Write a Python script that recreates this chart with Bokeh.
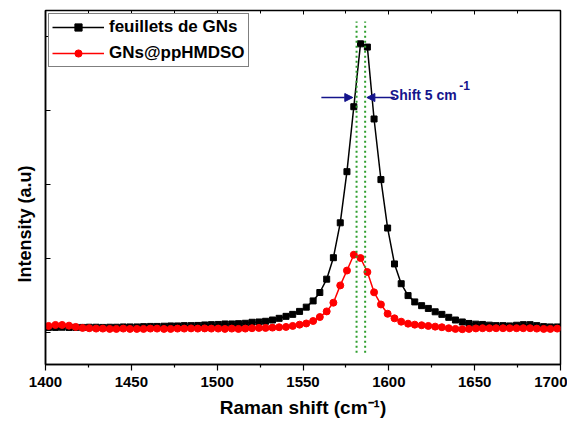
from bokeh.plotting import figure
from bokeh.models import (Range1d, LinearAxis, FixedTicker, Label, Arrow, NormalHead,
                          Legend, LegendItem, Title)
from bokeh.embed import file_html
from bokeh.resources import INLINE

# ---------------- data ----------------
raman_shift = [1401.8, 1405.8, 1409.7, 1413.7, 1417.6, 1421.6, 1425.5, 1429.5, 1433.4, 1437.4,
               1441.3, 1445.3, 1449.2, 1453.2, 1457.1, 1461.1, 1465.0, 1469.0, 1472.9, 1476.9,
               1480.8, 1484.8, 1488.7, 1492.7, 1496.6, 1500.6, 1504.5, 1508.5, 1512.4, 1516.4,
               1520.3, 1524.3, 1528.2, 1532.2, 1536.1, 1540.1, 1544.0, 1548.0, 1551.9, 1555.9,
               1559.8, 1563.8, 1567.7, 1571.7, 1575.6, 1579.6, 1583.5, 1587.5, 1591.4, 1595.4,
               1599.3, 1603.3, 1607.2, 1611.2, 1615.1, 1619.1, 1623.0, 1627.0, 1630.9, 1634.9,
               1638.8, 1642.8, 1646.7, 1650.7, 1654.6, 1658.6, 1662.5, 1666.5, 1670.4, 1674.4,
               1678.3, 1682.3, 1686.2, 1690.2, 1694.1, 1698.1]

feuillets_gns = [37.5, 37.5, 37.7, 37.5, 37.5, 37.5, 37.7, 37.7, 37.5, 37.7, 37.7,
                 38.0, 38.0, 38.0, 38.3, 38.5, 38.5,
                 38.7, 39.0, 39.0, 39.3,
                 39.3, 39.5, 40.0, 40.3, 40.5,
                 41.0, 41.0, 41.3, 41.7, 42.7,
                 43.0, 43.7, 45.0, 46.7, 48.7,
                 50.7, 53.7, 58.0, 64.3, 72.8,
                 86.3, 108.0, 143.3, 195.0, 260.7,
                 324.3, 321.0, 248.3, 187.0, 138.0,
                 101.7, 81.7, 69.7, 63.3, 59.5,
                 56.7, 53.3, 50.7, 47.7, 45.0,
                 43.0, 41.5, 40.8, 40.5, 39.8,
                 39.3, 39.3, 39.0, 39.7, 40.3,
                 40.3, 39.3, 38.3, 38.0, 38.0]

gns_pphmdso = [39.0, 40.0, 40.0, 39.3, 38.0, 37.0, 36.7,
               36.3, 36.3, 36.0, 36.0, 36.3, 36.0, 36.0, 36.0, 36.3, 36.3,
               36.0, 36.0, 36.3, 36.3, 36.5, 36.3, 36.5, 36.3, 36.3,
               36.0, 36.3, 36.0, 36.3, 36.7,
               37.0, 37.0, 37.3, 37.7, 38.0,
               39.0, 40.3, 41.5, 44.0, 48.0,
               53.7, 62.5, 80.0, 95.0, 111.0,
               107.7, 93.5, 73.0, 60.7, 51.3,
               46.7, 43.3, 41.3, 40.3, 39.7,
               39.0, 38.3, 37.7, 36.7, 36.0,
               35.7, 36.0, 36.5, 36.7, 36.7,
               36.7, 36.7, 36.7, 36.7, 36.7,
               36.7, 36.3, 36.0, 36.0, 36.3]

x_ticks = [1400, 1450, 1500, 1550, 1600, 1650, 1700]
x_minor_ticks = [1425, 1475, 1525, 1575, 1625, 1675]
y_ticks = [32, 107, 182, 257, 332]
peak_positions = [1581.2, 1586.2]   # G band positions (shift 5 cm-1)

FONT = "Liberation Sans"
NAVY = "#14148c"
GREEN = "#2e9e2e"

# ---------------- figure ----------------
p = figure(width=567, height=422, output_backend="svg", toolbar_location=None,
           x_range=Range1d(1400, 1700), y_range=Range1d(0, 358),
           min_border_left=45, min_border_right=7, min_border_top=10, min_border_bottom=58)
p.grid.visible = False
p.outline_line_color = "black"
p.outline_line_width = 1.5

# bottom axis
xa = p.xaxis[0]
xa.ticker = FixedTicker(ticks=x_ticks, minor_ticks=x_minor_ticks)
xa.major_tick_out = 6
xa.major_tick_in = 0
xa.minor_tick_out = 3
xa.minor_tick_in = 0
xa.axis_line_width = 1.5
xa.major_tick_line_width = 1.2
xa.minor_tick_line_width = 1.2
xa.major_label_text_font = FONT
xa.major_label_text_font_style = "bold"
xa.major_label_text_font_size = "15px"
xa.major_label_text_color = "black"
xa.major_label_standoff = 6
xa.axis_label = "Raman shift (cm\u207b\u00b9)"
xa.axis_label_text_font = FONT
xa.axis_label_text_font_style = "bold"
xa.axis_label_text_font_size = "19px"
xa.axis_label_text_color = "black"
xa.axis_label_standoff = 7

# left axis (ticks only)
ya = p.yaxis[0]
ya.ticker = FixedTicker(ticks=y_ticks, minor_ticks=[])
ya.major_label_text_color = None
ya.major_label_standoff = 0
ya.major_tick_in = 5
ya.major_tick_out = 0
ya.minor_tick_in = 0
ya.minor_tick_out = 0
ya.axis_line_width = 1.5

# top axis (ticks only)
top = LinearAxis(ticker=FixedTicker(ticks=x_ticks, minor_ticks=x_minor_ticks),
                 major_label_text_color=None, major_label_standoff=0,
                 major_tick_in=4, major_tick_out=0, minor_tick_in=3, minor_tick_out=0,
                 axis_line_width=1.2)
p.add_layout(top, "above")

# y title
p.add_layout(Title(text="Intensity (a.u)", align="left", offset=82, standoff=21,
                   text_font=FONT, text_font_style="bold", text_font_size="18px",
                   text_color="black"), "left")

# ---------------- data glyphs ----------------
bl = p.line(raman_shift, feuillets_gns, line_color="black", line_width=1.5)
bs = p.scatter(raman_shift, feuillets_gns, marker="square", size=6,
               fill_color="black", line_color="black")

rl = p.line(raman_shift, gns_pphmdso, line_color="#ff0000", line_width=1.5)
rs = p.scatter(raman_shift, gns_pphmdso, marker="circle", size=7,
               fill_color="#ff0000", line_color="#ff0000")

p.segment(x0=peak_positions, y0=[12, 12], x1=peak_positions, y1=[347, 347],
          line_color=GREEN, line_width=2, line_dash="2 3")

# ---------------- annotations ----------------
p.add_layout(Arrow(end=NormalHead(size=8, fill_color=NAVY, line_color=NAVY),
                   x_start=1560.7, y_start=270, x_end=1579.0, y_end=270,
                   line_color=NAVY, line_width=1.5))
p.add_layout(Arrow(end=NormalHead(size=8, fill_color=NAVY, line_color=NAVY),
                   x_start=1603.5, y_start=270, x_end=1587.2, y_end=270,
                   line_color=NAVY, line_width=1.5))
p.add_layout(Label(x=1600.6, y=273, text="Shift 5 cm", text_font=FONT,
                   text_font_style="bold", text_font_size="14px", text_color=NAVY,
                   text_baseline="alphabetic"))
p.add_layout(Label(x=1641.0, y=282, text="-1", text_font=FONT,
                   text_font_style="bold", text_font_size="12px", text_color=NAVY,
                   text_baseline="alphabetic"))

# ---------------- legend ----------------
legend = Legend(items=[LegendItem(label="feuillets de GNs", renderers=[bl, bs]),
                       LegendItem(label="GNs@ppHMDSO", renderers=[rl, rs])],
                location="top_left", margin=3, padding=3, spacing=6,
                glyph_width=52, glyph_height=18, label_height=18, label_standoff=5,
                label_text_font=FONT, label_text_font_style="bold",
                label_text_font_size="17px", label_text_color="black",
                border_line_color="black", border_line_width=1,
                background_fill_alpha=1.0)
p.add_layout(legend)

open("out.html", "w").write(file_html(p, INLINE))
